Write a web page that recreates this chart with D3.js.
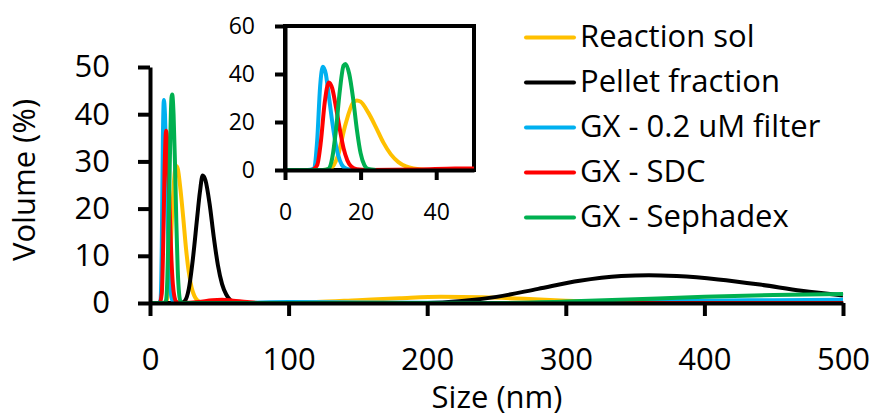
<!DOCTYPE html>
<html>
<head>
<meta charset="utf-8">
<script src="https://cdn.jsdelivr.net/npm/d3@7"></script>
<style>
  body { margin: 0; background: #fff; }
  text { font-family: "Open Sans", "Noto Sans", sans-serif; fill: #000; }
</style>
</head>
<body>
<div id="chart"></div>
<script>
// series, [size nm, volume %]
var seriesNames = ["Reaction sol", "Pellet fraction", "GX - 0.2 uM filter", "GX - SDC", "GX - Sephadex"];
var seriesColors = ["#FFC000", "#000000", "#00B0F0", "#FF0000", "#00B050"];

var reactionSol = [[0,0],[10,0],[12,0.5],[14,6],[16,19],[18,28],[19,29],[20,28.5],[22,24],[24,18],[26,11.5],[28,6.5],[30,3.3],[32,1.5],[34,0.6],[36,0.2],[40,0],
  [80,0],[120,0.2],[150,0.6],[180,1],[210,1.3],[240,1.2],[270,0.9],[300,0.5],[330,0.2],[360,0],[500,0]];
var pellet = [[0,0],[22,0],[25,0.4],[28,3],[31,9.5],[34,18],[36,23.5],[38,27],[40,26],[43,21],[46,14],[49,8],[52,4],[55,1.8],[58,0.6],[62,0.1],[70,0],
  [200,0],[225,0.4],[250,1.3],[280,3],[310,4.7],[340,5.7],[360,5.9],[380,5.7],[410,5],[440,3.9],[470,2.6],[500,1.6]];
var gxFilter = [[0,0],[6,0],[7.5,0.5],[8.5,12],[9.3,35],[10,43],[10.8,40],[11.5,32],[12.5,20],[13.5,10],[14.5,4],[15.5,1.2],[17,0.2],[19,0],
  [60,0],[100,0.2],[150,0.1],[250,0],[300,0.1],[350,0.3],[400,0.5],[450,0.6],[500,0.7]];
var gxSDC = [[0,0],[7,0],[8.5,2],[9.5,12],[10.5,28],[11.6,36.5],[12.5,34],[13.5,26],[14.5,17],[15.5,9],[16.5,4],[17.5,1.5],[19,0.3],[22,0],
  [35,0.2],[45,0.6],[52,0.7],[60,0.5],[70,0.2],[80,0],[500,0]];
var gxSephadex = [[0,0],[10,0],[11.5,0.5],[12.5,5],[13.5,17],[14.5,33],[15.5,43.5],[16,44.2],[17,40],[18,30],[19,17],[20,7],[21,2],[22,0.4],[24,0],
  [250,0],[300,0.3],[350,0.8],[400,1.3],[450,1.7],[500,1.9]];

var mainXTicks = [0, 100, 200, 300, 400, 500];
var mainYTicks = [0, 10, 20, 30, 40, 50];
var insetXTicks = [0, 20, 40];
var insetYTicks = [0, 20, 40, 60];

var allSeries = [reactionSol, pellet, gxFilter, gxSDC, gxSephadex];
var insetSeries = [0, 2, 3, 4]; // pellet not shown in the inset

var width = 875, height = 418;
var svg = d3.select("#chart").append("svg")
  .attr("width", width)
  .attr("height", height);

// ---- main chart
var x = d3.scaleLinear().domain([0, 500]).range([150, 843]);
var y = d3.scaleLinear().domain([0, 50]).range([303, 67]);

var line = d3.line()
  .x(function (d) { return x(d[0]) })
  .y(function (d) { return y(d[1]) })
  .curve(d3.curveMonotoneX);

allSeries.forEach(function (s, i) {
  svg.append("path")
    .datum(s)
    .attr("d", line)
    .attr("fill", "none")
    .attr("stroke", seriesColors[i])
    .attr("stroke-width", 4)
    .attr("stroke-linejoin", "round");
});

function styleAxis(g, fs) {
  g.select(".domain").attr("stroke-width", 4);
  g.selectAll(".tick line").attr("stroke-width", 4);
  g.selectAll(".tick text").style("font-size", fs + "px").attr("fill", "#000");
}

svg.append("g")
  .attr("transform", "translate(0," + y(0) + ")")
  .call(d3.axisBottom(x).tickValues(mainXTicks).tickSize(13).tickSizeOuter(0).tickPadding(32))
  .call(styleAxis, 31);

svg.append("g")
  .attr("transform", "translate(" + x(0) + ",0)")
  .call(d3.axisLeft(y).tickValues(mainYTicks).tickSize(12).tickSizeOuter(0).tickPadding(28))
  .call(styleAxis, 31);

svg.append("text")
  .attr("x", 497).attr("y", 408)
  .attr("text-anchor", "middle")
  .style("font-size", "31px")
  .text("Size (nm)");

svg.append("text")
  .attr("transform", "translate(35,180) rotate(-90)")
  .attr("text-anchor", "middle")
  .style("font-size", "31px")
  .text("Volume (%)");

// ---- inset
var ix = d3.scaleLinear().domain([0, 50]).range([285, 474]);
var iy = d3.scaleLinear().domain([0, 60]).range([170, 26]);

svg.append("rect")
  .attr("x", ix(0)).attr("y", iy(60))
  .attr("width", ix(50) - ix(0)).attr("height", iy(0) - iy(60))
  .attr("fill", "#fff")
  .attr("stroke", "#000")
  .attr("stroke-width", 4);

var iline = d3.line()
  .x(function (d) { return ix(d[0]) })
  .y(function (d) { return iy(d[1]) })
  .curve(d3.curveMonotoneX);

svg.append("clipPath").attr("id", "insetClip")
  .append("rect")
  .attr("x", ix(0)).attr("y", iy(60))
  .attr("width", ix(50) - ix(0)).attr("height", iy(0) - iy(60) + 3);

insetSeries.forEach(function (k) {
  svg.append("path")
    .datum(allSeries[k].filter(function (d) { return d[0] <= 60 }))
    .attr("d", iline)
    .attr("clip-path", "url(#insetClip)")
    .attr("fill", "none")
    .attr("stroke", seriesColors[k])
    .attr("stroke-width", 4)
    .attr("stroke-linejoin", "round");
});

svg.append("g")
  .attr("transform", "translate(0," + iy(0) + ")")
  .call(d3.axisBottom(ix).tickValues(insetXTicks).tickSize(10).tickSizeOuter(0).tickPadding(24))
  .call(styleAxis, 23);

svg.append("g")
  .attr("transform", "translate(" + ix(0) + ",0)")
  .call(d3.axisLeft(iy).tickValues(insetYTicks).tickSize(10).tickSizeOuter(0).tickPadding(20))
  .call(styleAxis, 23);

// ---- legend
var legend = svg.append("g");
seriesNames.forEach(function (name, i) {
  var cy = 37.5 + i * 45;
  legend.append("line")
    .attr("x1", 526).attr("x2", 574)
    .attr("y1", cy).attr("y2", cy)
    .attr("stroke", seriesColors[i])
    .attr("stroke-width", 4)
    .attr("stroke-linecap", "round");
  legend.append("text")
    .attr("x", 580).attr("y", cy + 9.5)
    .style("font-size", "31px")
    .text(name);
});
</script>
</body>
</html>
